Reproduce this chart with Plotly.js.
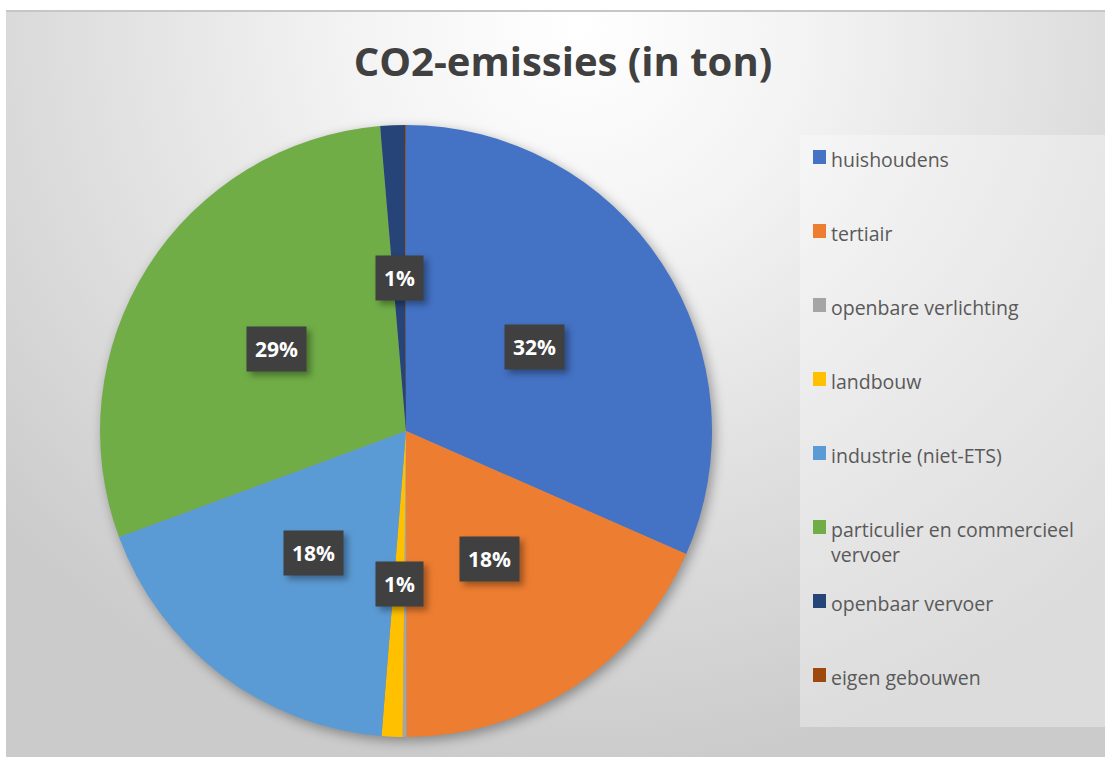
<!DOCTYPE html>
<html><head><meta charset="utf-8">
<script src="https://cdn.plot.ly/plotly-3.0.1.min.js"></script>
<style>
html,body{margin:0;padding:0;background:#fff;}
#wrap{position:relative;width:1107px;height:757px;overflow:hidden;background:#fff;}
#bg{position:absolute;left:6px;top:10px;width:1099px;height:747px;
 background:radial-gradient(ellipse 70% 100% at 52% 2%, #ffffff 0%, #f3f3f3 30%, #dcdcdc 70%, #cbcbcb 100%);
 border-top:2px solid #c6c6c6;box-sizing:border-box;}
#chart{position:absolute;left:0;top:0;width:1107px;height:757px;}
.pielayer .trace{filter:drop-shadow(3px 4px 6px rgba(0,0,0,0.35));}
.annotation rect.bg{filter:drop-shadow(4px 4px 3px rgba(0,0,0,0.35));}
</style></head>
<body><div id="wrap"><div id="bg"></div><div id="chart"></div></div>
<script>
const categories = ["huishoudens","tertiair","openbare verlichting","landbouw","industrie (niet-ETS)","particulier en commercieel vervoer","openbaar vervoer","eigen gebouwen"];
const values = [31.6, 18.4, 0.2, 1.1, 18.1, 29.3, 1.3, 0.05];
const colors = ["#4472C4","#ED7D31","#A5A5A5","#FFC000","#5B9BD5","#70AD47","#264478","#9E480E"];

const W = 1107, H = 757;
const cx = 406, cy = 431, R = 306;
const total = values.reduce((a,b)=>a+b,0);

function wrap(s, n){
  if (s.length <= n) return s;
  const i = s.lastIndexOf(' ', n);
  return s.slice(0,i) + '<br>' + s.slice(i+1);
}

const annotations = [];
const shapes = [];

// data labels (centered at half radius of each slice's mid-angle)
let cum = 0;
values.forEach((v,i)=>{
  const frac = v/total;
  const mid = (cum + frac/2) * 2*Math.PI;
  cum += frac;
  const pct = Math.round(frac*100);
  if (frac < 0.005) return;
  const px = cx + 0.5*R*Math.sin(mid);
  const py = cy - 0.5*R*Math.cos(mid);
  annotations.push({x: px/W, y: 1 - py/H, xref:'paper', yref:'paper', showarrow:false,
    text: pct + '%', font:{family:'Open Sans, sans-serif', size:21, color:'#ffffff', weight:700},
    borderpad:8, xanchor:'center', yanchor:'middle', bgcolor:'#404040'});
});

// legend panel
const legTop = 157, legGap = 74, legX = 813;
shapes.push({type:'rect', xref:'paper', yref:'paper', x0:800/W, x1:1105/W, y0:1-727/H, y1:1-135/H,
  fillcolor:'rgba(255,255,255,0.33)', line:{width:0}, layer:'below'});
categories.forEach((c,i)=>{
  const y = legTop + i*legGap;
  shapes.push({type:'rect', xref:'paper', yref:'paper', x0:legX/W, x1:(legX+13)/W,
    y0:1-(y+7)/H, y1:1-(y-7)/H, fillcolor:colors[i], line:{width:0}});
  annotations.push({x:(legX+16)/W, y:1-(y-13)/H, xref:'paper', yref:'paper', showarrow:false,
    xanchor:'left', yanchor:'top', align:'left', text: wrap(c, 26),
    font:{family:'Open Sans, sans-serif', size:19.5, color:'#595959'}});
});

const data = [{
  type:'pie', labels:categories, values:values, sort:false, direction:'clockwise', rotation:0,
  marker:{colors:colors, line:{width:0}}, textinfo:'none', textposition:'none', hoverinfo:'skip',
  domain:{x:[(cx-R)/W,(cx+R)/W], y:[1-(cy+R)/H, 1-(cy-R)/H]}, showlegend:false
}];

const layout = {
  width:W, height:H, margin:{l:0,r:0,t:0,b:0},
  paper_bgcolor:'rgba(0,0,0,0)', plot_bgcolor:'rgba(0,0,0,0)',
  title:{text:'CO2-emissies (in ton)', x:563/W, xanchor:'center', y:1-62/H, yanchor:'middle', yref:'container',
    font:{family:'Open Sans, sans-serif', size:40, color:'#404040', weight:700}},
  showlegend:false, annotations:annotations, shapes:shapes
};
Plotly.newPlot('chart', data, layout, {staticPlot:true, displayModeBar:false});
</script>
</body></html>
